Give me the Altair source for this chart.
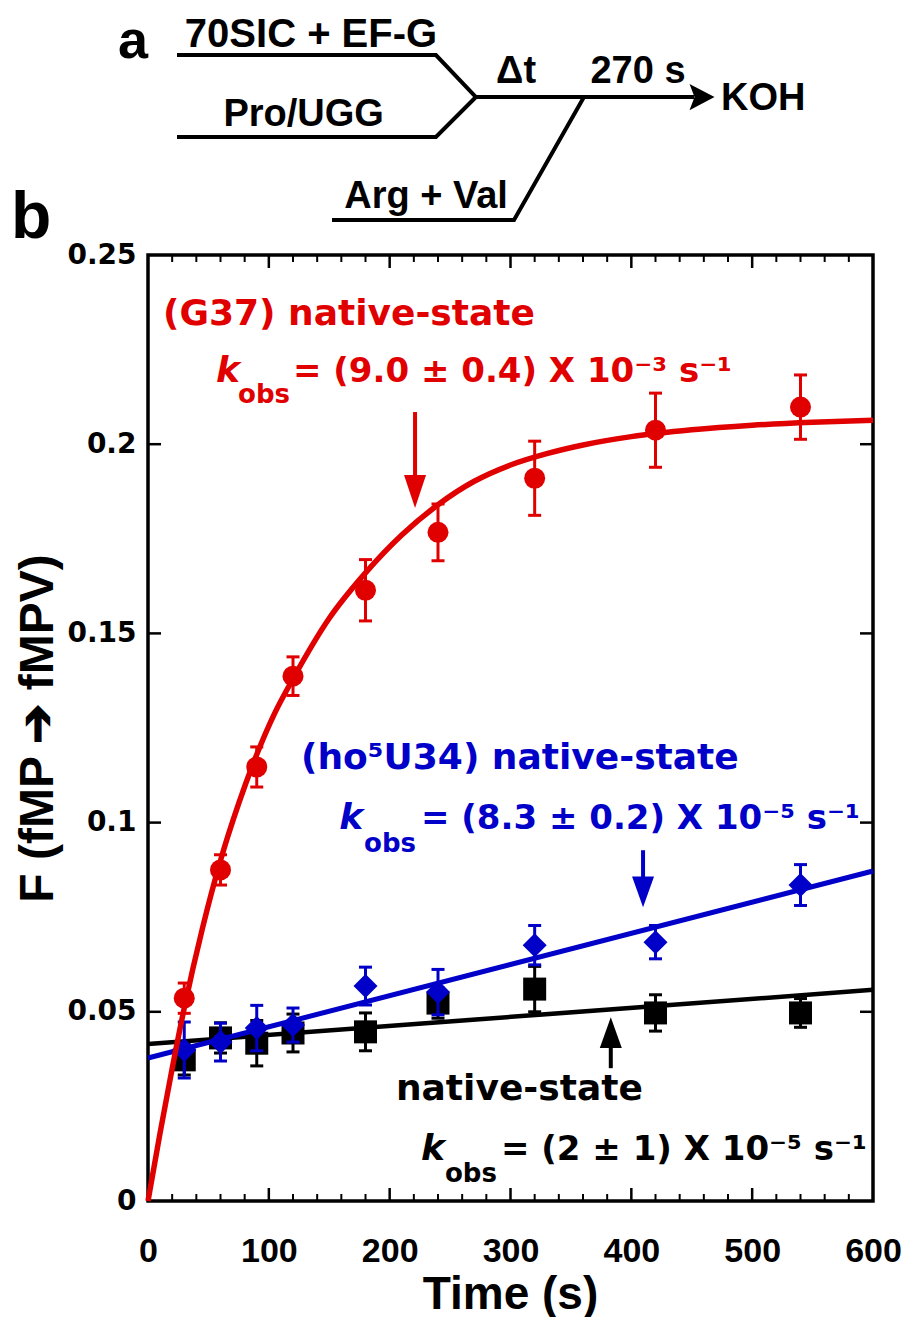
import altair as alt
import pandas as pd

# ---------------- data ----------------
time_s = [30, 60, 90, 120, 180, 240, 320, 420, 540]

g37_F = [0.0536, 0.0875, 0.1147, 0.1387, 0.1614, 0.1767, 0.1910, 0.2037, 0.2098]
g37_err = [0.0040, 0.0040, 0.0053, 0.0051, 0.0081, 0.0075, 0.0098, 0.0098, 0.0085]

ho5_F = [0.0399, 0.0420, 0.0457, 0.0465, 0.0568, 0.0552, 0.0676, 0.0684, 0.0835]
ho5_err = [0.0074, 0.0050, 0.0060, 0.0045, 0.0050, 0.0060, 0.0052, 0.0044, 0.0054]

nat_F = [0.0373, 0.0431, 0.0417, 0.0444, 0.0447, 0.0523, 0.0560, 0.0497, 0.0497]
nat_err = [0.0040, 0.0040, 0.0060, 0.0050, 0.0050, 0.0040, 0.0060, 0.0048, 0.0038]

# fitted curves
g37_fit_t = [0, 10, 20, 30, 45, 60, 75, 90, 105, 120, 150, 180, 210, 240, 270,
             300, 330, 360, 400, 450, 500, 550, 600]
g37_fit_F = [0, 0.018, 0.035, 0.051, 0.072, 0.090, 0.105, 0.118, 0.129, 0.138,
             0.154, 0.166, 0.176, 0.184, 0.1902, 0.1945, 0.1975, 0.1998, 0.2020,
             0.2038, 0.2050, 0.2058, 0.2063]
lin_fit_t = [0, 600]
ho5_fit_F = [0.0378, 0.0872]
nat_fit_F = [0.0415, 0.0558]

# axis ticks
x_labels = [0, 100, 200, 300, 400, 500, 600]
y_labels = [0, 0.05, 0.1, 0.15, 0.2, 0.25]
x_major_inner = [100, 200, 300, 400, 500]
x_minor = [20, 40, 60, 80, 120, 140, 160, 180, 220, 240, 260, 280, 320, 340, 360,
           380, 420, 440, 460, 480, 520, 540, 560, 580]
y_inner = [0.05, 0.1, 0.15, 0.2]

RED = "#E00000"
BLUE = "#0000C8"
BLACK = "#000000"

# annotation texts (data coordinates)
title_text = ["(G37) native-state", "(ho⁵U34) native-state", "native-state"]
title_t = [12.4, 126.6, 205.2]
title_F = [0.2315, 0.1142, 0.0267]
rate_text = ["= (9.0 ± 0.4) X 10⁻³ s⁻¹", "= (8.3 ± 0.2) X 10⁻⁵ s⁻¹",
             "= (2 ± 1) X 10⁻⁵ s⁻¹"]
rate_t = [120.0, 225.9, 292.1]
rate_F = [0.2164, 0.0982, 0.0108]
grp_c = [RED, BLUE, BLACK]

k_t = [56.3, 158.3, 225.9]
k_F = [0.2164, 0.0982, 0.0108]
obs_t = [74.5, 178.8, 245.8]
obs_F = [0.2109, 0.0922, 0.0050]

# annotation arrows
arr_t = [221, 409.7, 383]
arr_from = [0.2085, 0.0927, 0.0351]
arr_to = [0.1900, 0.0845, 0.0415]
head_F = [0.1875, 0.0817, 0.0445]
head_shape = ["M-1,-1.5L1,-1.5L0,1.5Z", "M-1,-1.4L1,-1.4L0,1.4Z", "M-1,1.4L1,1.4L0,-1.4Z"]

# schematic (panel a) in the same data coordinates
diag_path = ["top"] * 3 + ["bottom"] * 3 + ["main"] * 2 + ["arg"] * 3
diag_order = [0, 1, 2, 0, 1, 2, 0, 1, 0, 1, 2]
diag_t = [24.0, 238.3, 271.4, 24.0, 238.3, 271.4, 271.4, 452.0, 152.3, 302.9, 360.8]
diag_F = [0.30285, 0.30285, 0.29175, 0.28118, 0.28118, 0.29175, 0.29175, 0.29175,
          0.25925, 0.25925, 0.29175]
diag_txt = ["70SIC + EF-G", "Pro/UGG", "Δt", "270 s", "Arg + Val"]
diag_txt_t = [134.9, 128.8, 304.6, 405.5, 230.1]
diag_txt_F = [0.30500, 0.28409, 0.29545, 0.29545, 0.26242]
diag_txt_size = [40, 38, 38, 38, 38]
koh_t, koh_F = [474.2], [0.28832]
diag_head_t, diag_head_F = [458.5], [0.29175]
panel_txt = ["a", "b"]
panel_t = [-24.8, -113.4]
panel_F = [0.30206, 0.25449]
panel_size = [54, 66]

# ---------------- scales / axes ----------------
X_SCALE = alt.Scale(domain=[0, 600], nice=False, zero=False)
Y_SCALE = alt.Scale(domain=[0, 0.25], nice=False, zero=False)
X_AXIS = alt.Axis(values=x_labels, format="d", ticks=False, tickSize=0, domain=False,
                  grid=False, labelFlush=False, labelFont="Liberation Sans",
                  labelFontSize=34, labelFontWeight="bold", labelColor="black",
                  labelPadding=33, title="Time (s)", titleFont="Liberation Sans",
                  titleFontSize=46, titleFontWeight="bold", titleColor="black",
                  titleX=362, titleY=107, titleBaseline="alphabetic", titleAlign="center")
Y_AXIS = alt.Axis(values=y_labels, format="~g", ticks=False, tickSize=0, domain=False,
                  grid=False, labelFlush=False, labelFont="DejaVu Sans",
                  labelFontSize=28, labelFontWeight="bold", labelColor="black",
                  labelPadding=12, title="F (fMP ➔ fMPV)", titleFont="Liberation Sans",
                  titleFontSize=48, titleFontWeight="bold", titleColor="black",
                  titleAngle=270, titleX=-96, titleY=473, titleBaseline="alphabetic",
                  titleAlign="center")


def X(f):
    return alt.X(f, type="quantitative", scale=X_SCALE, axis=X_AXIS)


def Y(f):
    return alt.Y(f, type="quantitative", scale=Y_SCALE, axis=Y_AXIS)


W, H = 725, 946
layers = []

# inward tick marks
xt_major = pd.DataFrame({"t": x_major_inner})
xt_minor = pd.DataFrame({"t": x_minor})
yt = pd.DataFrame({"F": y_inner})
layers.append(alt.Chart(xt_major).mark_rule(color="black", strokeWidth=2.5).encode(
    x=X("t"), y=alt.value(H), y2=alt.value(H - 13)))
layers.append(alt.Chart(xt_major).mark_rule(color="black", strokeWidth=2.5).encode(
    x=X("t"), y=alt.value(0), y2=alt.value(13)))
layers.append(alt.Chart(xt_minor).mark_rule(color="black", strokeWidth=2).encode(
    x=X("t"), y=alt.value(H), y2=alt.value(H - 7)))
layers.append(alt.Chart(xt_minor).mark_rule(color="black", strokeWidth=2).encode(
    x=X("t"), y=alt.value(0), y2=alt.value(7)))
layers.append(alt.Chart(yt).mark_rule(color="black", strokeWidth=2.5).encode(
    y=Y("F"), x=alt.value(0), x2=alt.value(13)))
layers.append(alt.Chart(yt).mark_rule(color="black", strokeWidth=2.5).encode(
    y=Y("F"), x=alt.value(W), x2=alt.value(W - 13)))


def series(F, err, color, shape, size, fit_t, fit_F, lw):
    df = pd.DataFrame({"t": time_s, "F": F,
                       "lo": [a - b for a, b in zip(F, err)],
                       "hi": [a + b for a, b in zip(F, err)]})
    fit = pd.DataFrame({"t": fit_t, "F": fit_F})
    out = []
    out.append(alt.Chart(df).mark_rule(color=color, strokeWidth=3).encode(
        x=X("t"), y=Y("lo"), y2=alt.Y2("hi")))
    out.append(alt.Chart(df).mark_tick(orient="horizontal", color=color, size=13,
                                       thickness=3, opacity=1).encode(x=X("t"), y=Y("lo")))
    out.append(alt.Chart(df).mark_tick(orient="horizontal", color=color, size=13,
                                       thickness=3, opacity=1).encode(x=X("t"), y=Y("hi")))
    line = alt.Chart(fit).mark_line(color=color, strokeWidth=lw,
                                    interpolate="monotone").encode(x=X("t"), y=Y("F"))
    pts = alt.Chart(df).mark_point(shape=shape, filled=True, size=size, color=color,
                                   opacity=1).encode(x=X("t"), y=Y("F"))
    return out, line, pts


nat_bars, nat_line, nat_pts = series(nat_F, nat_err, BLACK, "square", 529,
                                     lin_fit_t, nat_fit_F, 4.5)
ho5_bars, ho5_line, ho5_pts = series(ho5_F, ho5_err, BLUE, "diamond", 576,
                                     lin_fit_t, ho5_fit_F, 5)
g37_bars, g37_line, g37_pts = series(g37_F, g37_err, RED, "circle", 441,
                                     g37_fit_t, g37_fit_F, 5.5)

layers += nat_bars + [nat_line, nat_pts]
layers += ho5_bars + [ho5_line, ho5_pts]
layers += g37_bars + [g37_line, g37_pts]

# annotation arrows
arr = pd.DataFrame({"t": arr_t, "a": arr_from, "b": arr_to, "h": head_F,
                    "shape": head_shape, "c": grp_c})
layers.append(alt.Chart(arr).mark_rule(strokeWidth=4).encode(
    x=X("t"), y=Y("a"), y2=alt.Y2("b"), color=alt.Color("c:N", scale=None)))
layers.append(alt.Chart(arr).mark_point(filled=True, opacity=1, size=484, strokeWidth=0).encode(
    x=X("t"), y=Y("h"), shape=alt.Shape("shape:N", scale=None),
    color=alt.Color("c:N", scale=None)))

# annotation texts
tdf = pd.DataFrame({"t": title_t, "F": title_F, "txt": title_text, "c": grp_c})
layers.append(alt.Chart(tdf).mark_text(align="left", baseline="alphabetic",
                                       font="DejaVu Sans", fontSize=36,
                                       fontWeight="bold").encode(
    x=X("t"), y=Y("F"), text="txt:N", color=alt.Color("c:N", scale=None)))
rdf = pd.DataFrame({"t": rate_t, "F": rate_F, "txt": rate_text, "c": grp_c})
layers.append(alt.Chart(rdf).mark_text(align="left", baseline="alphabetic",
                                       font="DejaVu Sans", fontSize=34,
                                       fontWeight="bold").encode(
    x=X("t"), y=Y("F"), text="txt:N", color=alt.Color("c:N", scale=None)))
kdf = pd.DataFrame({"t": k_t, "F": k_F, "txt": ["k"] * 3, "c": grp_c})
layers.append(alt.Chart(kdf).mark_text(align="left", baseline="alphabetic",
                                       font="DejaVu Sans", fontSize=36,
                                       fontWeight="bold", fontStyle="italic").encode(
    x=X("t"), y=Y("F"), text="txt:N", color=alt.Color("c:N", scale=None)))
odf = pd.DataFrame({"t": obs_t, "F": obs_F, "txt": ["obs"] * 3, "c": grp_c})
layers.append(alt.Chart(odf).mark_text(align="left", baseline="alphabetic",
                                       font="DejaVu Sans", fontSize=26,
                                       fontWeight="bold").encode(
    x=X("t"), y=Y("F"), text="txt:N", color=alt.Color("c:N", scale=None)))

# schematic
diag = pd.DataFrame({"t": diag_t, "F": diag_F, "path": diag_path, "o": diag_order})
layers.append(alt.Chart(diag).mark_line(color="black", strokeWidth=4).encode(
    x=X("t"), y=Y("F"), detail="path:N", order="o:Q"))
dhead = pd.DataFrame({"t": diag_head_t, "F": diag_head_F})
layers.append(alt.Chart(dhead).mark_point(filled=True, opacity=1, size=625, color="black",
                                          shape="M-1,-1.05L1,0L-1,1.05L-0.6,0Z").encode(
    x=X("t"), y=Y("F")))
dtxt = pd.DataFrame({"t": diag_txt_t, "F": diag_txt_F, "txt": diag_txt,
                     "s": diag_txt_size})
layers.append(alt.Chart(dtxt).mark_text(align="center", baseline="alphabetic",
                                        font="Liberation Sans",
                                        fontWeight="bold", color="black").encode(
    x=X("t"), y=Y("F"), text="txt:N", size=alt.Size("s:Q", scale=None)))
kohdf = pd.DataFrame({"t": koh_t, "F": koh_F, "txt": ["KOH"]})
layers.append(alt.Chart(kohdf).mark_text(align="left", baseline="alphabetic",
                                         font="Liberation Sans", fontSize=38,
                                         fontWeight="bold", color="black").encode(
    x=X("t"), y=Y("F"), text="txt:N"))
pdf = pd.DataFrame({"t": panel_t, "F": panel_F, "txt": panel_txt, "s": panel_size})
layers.append(alt.Chart(pdf).mark_text(align="left", baseline="alphabetic",
                                       font="Liberation Sans",
                                       fontWeight="bold", color="black").encode(
    x=X("t"), y=Y("F"), text="txt:N", size=alt.Size("s:Q", scale=None)))

chart = alt.layer(*layers).properties(
    width=W, height=H,
    padding={"left": 140, "top": 247, "right": 30, "bottom": 116},
    autosize=alt.AutoSizeParams(type="none"),
    background="white",
).configure_view(stroke="black", strokeWidth=3.5)

chart.save("out.html", embed_options={"renderer": "svg", "actions": False})
